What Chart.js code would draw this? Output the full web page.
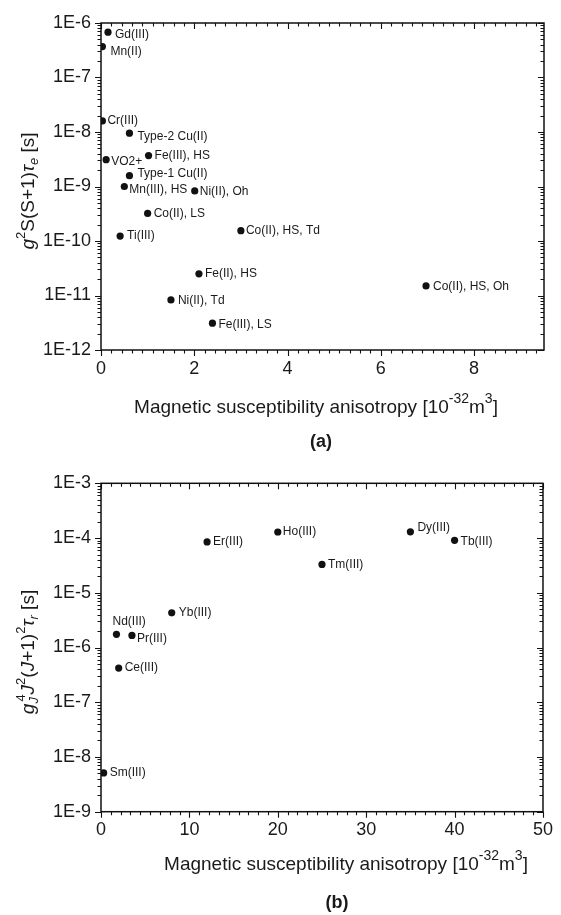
<!DOCTYPE html>
<html><head><meta charset="utf-8">
<script src="https://cdn.jsdelivr.net/npm/chart.js@4.4.1/dist/chart.umd.min.js"></script>
<style>
html,body{margin:0;padding:0;background:#fff}
body{width:561px;height:915px;overflow:hidden;position:relative}
canvas{position:absolute;left:0}
#ca{top:0}
#cb{top:460px}
</style></head><body>
<canvas id="ca" width="561" height="460"></canvas>
<canvas id="cb" width="561" height="455"></canvas>
<script>
// ---------- DATA (a) ----------
const ionsA = ['Gd(III)','Mn(II)','Cr(III)','Type-2 Cu(II)','VO2+','Fe(III), HS','Type-1 Cu(II)','Mn(III), HS','Ni(II), Oh','Co(II), LS','Ti(III)','Co(II), HS, Td','Fe(II), HS','Ni(II), Td','Fe(III), LS','Co(II), HS, Oh'];
const anisotropyA = [0.15, 0.03, 0.03, 0.61, 0.11, 1.02, 0.61, 0.5, 2.01, 1.0, 0.41, 3.0, 2.1, 1.5, 2.39, 6.97];
const tauA = [6.8e-7, 3.7e-7, 1.6e-8, 9.5e-9, 3.1e-9, 3.7e-9, 1.58e-9, 1.0e-9, 8.3e-10, 3.2e-10, 1.23e-10, 1.55e-10, 2.5e-11, 8.3e-12, 3.1e-12, 1.5e-11];
const xTicksA = [0, 2, 4, 6, 8];
const yTicksA = [1e-12, 1e-11, 1e-10, 1e-9, 1e-8, 1e-7, 1e-6];

// ---------- DATA (b) ----------
const ionsB = ['Er(III)','Yb(III)','Nd(III)','Pr(III)','Ho(III)','Tm(III)','Dy(III)','Tb(III)','Ce(III)','Sm(III)'];
const anisotropyB = [12, 8, 1.75, 3.5, 20, 25, 35, 40, 2, 0.3];
const tauB = [8.5e-5, 4.3e-6, 1.74e-6, 1.66e-6, 1.29e-4, 3.3e-5, 1.3e-4, 9.1e-5, 4.2e-7, 5.1e-9];
const xTicksB = [0, 10, 20, 30, 40, 50];
const yTicksB = [1e-9, 1e-8, 1e-7, 1e-6, 1e-5, 1e-4, 1e-3];

// ---------- label placement (style) ----------
const labelOffA = [[7,3],[8,5],[5,0],[8,3],[5,2],[6,0],[8,-2],[5,3],[5,1],[6,0],[7,0],[5,0],[6,0],[7,1],[6,1],[7,1]];
const labelOffB = [[6,0],[7,0],[-4,-13],[5,3],[5,0],[6,0],[7,-4],[6,1],[6,0],[6,0]];

const FF = '"Liberation Sans", Arial, Helvetica, sans-serif';
const INK = '#1a1a1a';

function fontOf(s){ return (s.b?'bold ':'') + (s.i?'italic ':'') + s.sz + 'px ' + FF; }
function drawRich(ctx, segs, cx, baseY, rot){
  ctx.save();
  ctx.translate(cx, baseY);
  ctx.rotate(rot||0);
  let w = 0;
  segs.forEach(s=>{ ctx.font = fontOf(s); s._w = ctx.measureText(s.t).width; if(!s.na) w += s._w + (s.dx||0); });
  let x = -w/2;
  ctx.fillStyle = INK;
  ctx.textBaseline = 'alphabetic';
  ctx.textAlign = 'left';
  segs.forEach(s=>{
    ctx.font = fontOf(s);
    ctx.fillText(s.t, x + (s.dx||0), s.dy||0);
    if(!s.na) x += s._w + (s.dx||0);
  });
  ctx.restore();
}

function xTitleSegs(){
  return [
    {t:'Magnetic susceptibility anisotropy [10', sz:19},
    {t:'-32', sz:14, dy:-10},
    {t:'m', sz:19},
    {t:'3', sz:14, dy:-10},
    {t:']', sz:19}
  ];
}

function decoPlugin(cfg){
  return {
    id:'deco',
    afterDatasetsDraw(chart){
      const ctx = chart.ctx;
      const meta = chart.getDatasetMeta(0);
      ctx.save();
      ctx.font = '12px ' + FF;
      ctx.fillStyle = INK;
      ctx.textBaseline = 'middle';
      ctx.textAlign = 'left';
      meta.data.forEach((pt, i)=>{
        const o = cfg.offsets[i];
        ctx.fillText(cfg.names[i], pt.x + o[0], pt.y + o[1]);
      });
      ctx.restore();
    },
    afterDraw(chart){
      const ctx = chart.ctx;
      const {left, right, top, bottom} = chart.chartArea;
      const xs = chart.scales.x, ys = chart.scales.y;
      ctx.save();
      ctx.strokeStyle = '#111';
      ctx.lineWidth = 1.1;
      ctx.beginPath();
      // x ticks
      const xm = cfg.xMajor;
      const step = (xm[1]-xm[0]) / 9;
      for(let v = xm[0]; v <= xs.max + 1e-9; v += step){
        const isMajor = xm.some(m=>Math.abs(m-v) < 1e-6);
        const L = isMajor ? 6 : 3.5;
        const px = Math.round(xs.getPixelForValue(v)) + 0.5;
        ctx.moveTo(px, bottom); ctx.lineTo(px, bottom + L);
        ctx.moveTo(px, top); ctx.lineTo(px, top + L);
      }
      // y ticks (log)
      const ym = cfg.yMajor;
      for(let d = 0; d < ym.length; d++){
        const base = ym[d];
        for(let k = 1; k <= 9; k++){
          const v = base * k;
          if(v > ys.max * 1.0001) break;
          const L = k === 1 ? 6 : 3.5;
          const py = Math.round(ys.getPixelForValue(v)) + 0.5;
          ctx.moveTo(left, py); ctx.lineTo(left - L, py);
          ctx.moveTo(right, py); ctx.lineTo(right - L, py);
        }
      }
      ctx.stroke();
      // frame
      ctx.lineWidth = 1.5;
      ctx.strokeRect(left, top, right - left, bottom - top);
      ctx.restore();
      // titles
      drawRich(ctx, xTitleSegs(), cfg.xTitle[0], cfg.xTitle[1], 0);
      drawRich(ctx, cfg.yTitleSegs, cfg.yTitle[0], cfg.yTitle[1], -Math.PI/2);
      ctx.save();
      ctx.font = 'bold 18px ' + FF;
      ctx.fillStyle = INK;
      ctx.textAlign = 'center';
      ctx.textBaseline = 'middle';
      ctx.fillText(cfg.panel, cfg.panelPos[0], cfg.panelPos[1]);
      ctx.restore();
    }
  };
}

function makeChart(id, xv, yv, cfg){
  return new Chart(document.getElementById(id), {
    type: 'scatter',
    data: { datasets: [{
      data: xv.map((x, i) => ({x: x, y: yv[i]})),
      pointRadius: 3.6, pointHoverRadius: 3.6,
      backgroundColor: '#111', borderWidth: 0, showLine: false
    }]},
    options: {
      responsive: false, animation: false, devicePixelRatio: 1, events: [],
      layout: { padding: { left: 0, top: cfg.padTop, right: cfg.padRight, bottom: 0 } },
      plugins: { legend: { display: false }, tooltip: { enabled: false } },
      scales: {
        x: {
          type: 'linear', min: cfg.xMin, max: cfg.xMax,
          grid: { display: false, drawTicks: false }, border: { display: false },
          ticks: { font: { size: 18, family: FF }, color: INK, padding: 8, maxRotation: 0 },
          afterBuildTicks: s => { s.ticks = cfg.xMajor.map(v => ({value: v})); },
          afterFit: s => { s.height = cfg.xH; }
        },
        y: {
          type: 'logarithmic', min: cfg.yMajor[0], max: cfg.yMajor[cfg.yMajor.length-1],
          grid: { display: false, drawTicks: false }, border: { display: false },
          ticks: { font: { size: 18, family: FF }, color: INK, padding: 10,
            callback: v => '1E' + Math.round(Math.log10(v)) },
          afterBuildTicks: s => { s.ticks = cfg.yMajor.map(v => ({value: v})); },
          afterFit: s => { s.width = 101; }
        }
      }
    },
    plugins: [decoPlugin(cfg)]
  });
}

makeChart('ca', anisotropyA, tauA, {
  names: ionsA, offsets: labelOffA, xMajor: xTicksA, yMajor: yTicksA,
  xMin: 0, xMax: 9.5, padTop: 23, padRight: 17, xH: 110,
  xTitle: [316, 413], yTitle: [34, 191],
  yTitleSegs: [
    {t:'g', sz:19, i:true}, {t:'2', sz:13, dy:-9},
    {t:'S(S+1)', sz:19}, {t:'τ', sz:19, i:true}, {t:'e', sz:13, i:true, dy:4},
    {t:' [s]', sz:19}
  ],
  panel: '(a)', panelPos: [321, 442]
});

makeChart('cb', anisotropyB, tauB, {
  names: ionsB, offsets: labelOffB, xMajor: xTicksB, yMajor: yTicksB,
  xMin: 0, xMax: 50, padTop: 23.3, padRight: 12.3, xH: 103.3,
  xTitle: [346, 410], yTitle: [34, 192],
  yTitleSegs: [
    {t:'g', sz:19, i:true}, {t:'J', sz:13, i:true, dy:4, na:true}, {t:'4', sz:13, dy:-9, dx:2},
    {t:'J', sz:19, i:true}, {t:'2', sz:13, dy:-9},
    {t:'(', sz:19}, {t:'J', sz:19, i:true}, {t:'+1)', sz:19}, {t:'2', sz:13, dy:-9},
    {t:'τ', sz:19, i:true}, {t:'r', sz:13, i:true, dy:4},
    {t:' [s]', sz:19}
  ],
  panel: '(b)', panelPos: [337, 443]
});
</script>
</body></html>
